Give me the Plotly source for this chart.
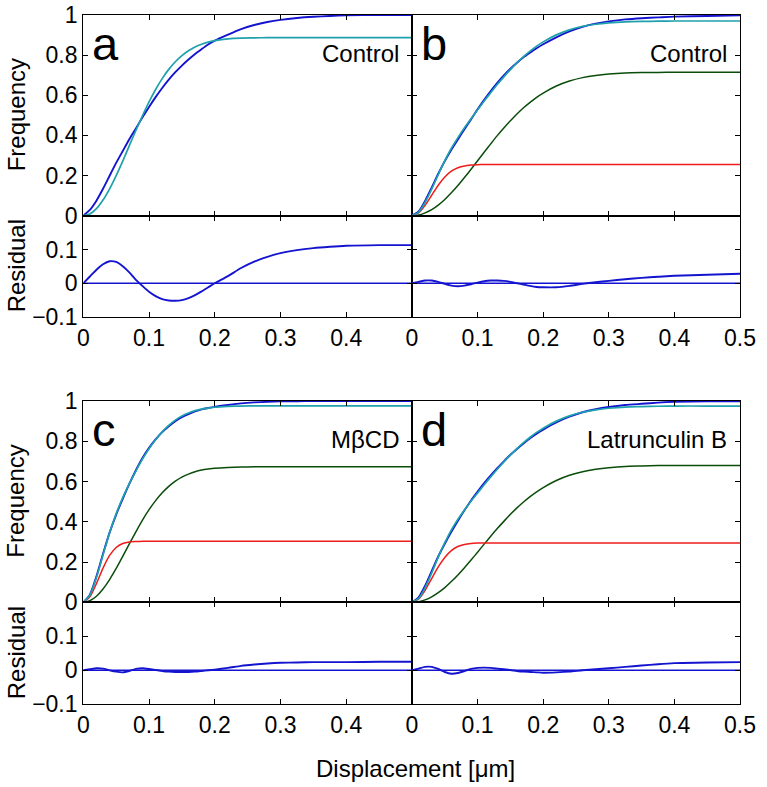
import plotly.graph_objects as go

# ---------------- data ----------------
x = [0, 0.01, 0.02, 0.03, 0.04, 0.05, 0.06, 0.07, 0.08, 0.09, 0.10, 0.11, 0.12, 0.13, 0.14,
     0.15, 0.16, 0.17, 0.18, 0.19, 0.20, 0.22, 0.24, 0.26, 0.28, 0.30, 0.325, 0.35, 0.375,
     0.40, 0.45, 0.50]

# panel a (Control, single-component fit)
a_data = [0, 0.029, 0.075, 0.134, 0.199, 0.263, 0.322, 0.381, 0.435, 0.490, 0.542, 0.591, 0.636,
          0.678, 0.715, 0.748, 0.778, 0.806, 0.830, 0.853, 0.872, 0.902, 0.930, 0.950, 0.965,
          0.976, 0.985, 0.991, 0.995, 0.998, 1.000, 1.000]
a_fit = [0, 0.009, 0.035, 0.078, 0.134, 0.200, 0.272, 0.349, 0.425, 0.498, 0.567, 0.629, 0.683,
         0.729, 0.767, 0.798, 0.822, 0.841, 0.854, 0.865, 0.872, 0.881, 0.885, 0.886, 0.887,
         0.887, 0.887, 0.887, 0.887, 0.887, 0.887, 0.887]
a_resid = [0, 0.020, 0.040, 0.056, 0.065, 0.063, 0.050, 0.032, 0.010, -0.008, -0.025, -0.038,
           -0.047, -0.051, -0.052, -0.050, -0.044, -0.035, -0.024, -0.012, 0.000, 0.021, 0.045,
           0.064, 0.078, 0.089, 0.098, 0.104, 0.108, 0.111, 0.113, 0.113]

# panel b (Control, two-component fit)
b_data = [0, 0.021, 0.074, 0.140, 0.209, 0.272, 0.329, 0.380, 0.431, 0.480, 0.530, 0.577, 0.621,
          0.662, 0.699, 0.732, 0.762, 0.789, 0.812, 0.834, 0.854, 0.889, 0.918, 0.941, 0.957,
          0.968, 0.978, 0.984, 0.988, 0.992, 0.995, 0.998]
b_fit = [0, 0.017, 0.066, 0.132, 0.205, 0.274, 0.336, 0.389, 0.438, 0.483, 0.528, 0.571, 0.613,
         0.654, 0.692, 0.728, 0.762, 0.793, 0.820, 0.845, 0.866, 0.901, 0.926, 0.943, 0.954,
         0.961, 0.966, 0.968, 0.969, 0.970, 0.970, 0.970]
b_fast = [0, 0.014, 0.052, 0.102, 0.152, 0.193, 0.222, 0.239, 0.248, 0.252, 0.254, 0.255, 0.255,
          0.255, 0.255, 0.255, 0.255, 0.255, 0.255, 0.255, 0.255, 0.255, 0.255, 0.255, 0.255,
          0.255, 0.255, 0.255, 0.255, 0.255, 0.255, 0.255]
b_slow = [0, 0.003, 0.014, 0.030, 0.053, 0.081, 0.114, 0.150, 0.190, 0.231, 0.274, 0.316, 0.358,
          0.399, 0.437, 0.473, 0.507, 0.538, 0.565, 0.590, 0.611, 0.646, 0.671, 0.688, 0.699,
          0.706, 0.711, 0.713, 0.714, 0.715, 0.715, 0.715]
b_resid = [0, 0.004, 0.008, 0.008, 0.004, -0.002, -0.007, -0.009, -0.007, -0.003, 0.002, 0.006,
           0.008, 0.008, 0.007, 0.004, 0.000, -0.004, -0.008, -0.011, -0.012, -0.012, -0.008,
           -0.002, 0.003, 0.007, 0.012, 0.016, 0.019, 0.022, 0.025, 0.028]

# panel c (MβCD)
c_data = [0, 0.038, 0.129, 0.241, 0.346, 0.436, 0.514, 0.588, 0.656, 0.717, 0.767, 0.809, 0.845,
          0.875, 0.900, 0.920, 0.935, 0.948, 0.958, 0.965, 0.971, 0.980, 0.988, 0.993, 0.996,
          0.998, 0.999, 1.000, 1.000, 1.000, 1.000, 1.000]
c_fit = [0, 0.035, 0.123, 0.236, 0.346, 0.440, 0.520, 0.590, 0.652, 0.711, 0.763, 0.808, 0.847,
         0.879, 0.905, 0.925, 0.940, 0.952, 0.960, 0.965, 0.969, 0.973, 0.975, 0.976, 0.976,
         0.976, 0.976, 0.976, 0.976, 0.976, 0.976, 0.976]
c_fast = [0, 0.027, 0.093, 0.170, 0.233, 0.272, 0.292, 0.300, 0.302, 0.303, 0.303, 0.303, 0.303,
          0.303, 0.303, 0.303, 0.303, 0.303, 0.303, 0.303, 0.303, 0.303, 0.303, 0.303, 0.303,
          0.303, 0.303, 0.303, 0.303, 0.303, 0.303, 0.303]
c_slow = [0, 0.008, 0.030, 0.066, 0.113, 0.168, 0.228, 0.290, 0.350, 0.408, 0.460, 0.505, 0.544,
          0.576, 0.602, 0.622, 0.637, 0.649, 0.657, 0.662, 0.666, 0.670, 0.672, 0.673, 0.673,
          0.673, 0.673, 0.673, 0.673, 0.673, 0.673, 0.673]
c_resid = [0, 0.003, 0.006, 0.005, 0.000, -0.004, -0.006, -0.002, 0.004, 0.006, 0.004, 0.001,
           -0.002, -0.004, -0.005, -0.005, -0.005, -0.004, -0.002, 0.000, 0.002, 0.007, 0.013,
           0.017, 0.020, 0.022, 0.023, 0.024, 0.024, 0.024, 0.025, 0.025]

# panel d (Latrunculin B)
d_data = [0, 0.024, 0.082, 0.155, 0.228, 0.291, 0.350, 0.405, 0.457, 0.506, 0.550, 0.592, 0.630,
          0.666, 0.700, 0.733, 0.762, 0.789, 0.815, 0.838, 0.858, 0.894, 0.922, 0.944, 0.959,
          0.970, 0.980, 0.986, 0.992, 0.996, 0.998, 0.999]
d_fit = [0, 0.019, 0.072, 0.145, 0.224, 0.296, 0.360, 0.413, 0.459, 0.502, 0.543, 0.584, 0.623,
         0.661, 0.697, 0.732, 0.764, 0.793, 0.820, 0.844, 0.865, 0.900, 0.926, 0.944, 0.956,
         0.964, 0.970, 0.972, 0.974, 0.975, 0.975, 0.975]
d_fast = [0, 0.016, 0.060, 0.118, 0.176, 0.223, 0.257, 0.277, 0.287, 0.292, 0.294, 0.295, 0.295,
          0.295, 0.295, 0.295, 0.295, 0.295, 0.295, 0.295, 0.295, 0.295, 0.295, 0.295, 0.295,
          0.295, 0.295, 0.295, 0.295, 0.295, 0.295, 0.295]
d_slow = [0, 0.003, 0.012, 0.027, 0.048, 0.073, 0.103, 0.136, 0.172, 0.210, 0.249, 0.289, 0.328,
          0.366, 0.402, 0.437, 0.469, 0.498, 0.525, 0.549, 0.570, 0.605, 0.631, 0.649, 0.661,
          0.669, 0.675, 0.677, 0.679, 0.680, 0.680, 0.680]
d_resid = [0, 0.005, 0.010, 0.010, 0.004, -0.005, -0.010, -0.008, -0.002, 0.004, 0.007, 0.008,
           0.007, 0.005, 0.003, 0.001, -0.002, -0.004, -0.005, -0.006, -0.007, -0.006, -0.004,
           0.000, 0.003, 0.006, 0.010, 0.014, 0.018, 0.021, 0.023, 0.024]

zero_x = [0, 0.5]
zero_y = [0, 0]

panel_letters = ["a", "b", "c", "d"]
panel_labels = ["Control", "Control", "MβCD", "Latrunculin B"]
freq_ticks = [0, 0.2, 0.4, 0.6, 0.8, 1]
resid_ticks = [-0.1, 0, 0.1]
x_ticks_left = [0, 0.1, 0.2, 0.3, 0.4]
x_ticks_right = [0, 0.1, 0.2, 0.3, 0.4, 0.5]
x_title = "Displacement [μm]"

# ---------------- styling ----------------
W, H = 767, 787
FONT = "Liberation Sans, Arial, Helvetica, sans-serif"
BLUE = "#1414d0"
TEAL = "#1fa0ad"
RED = "#ee1c1c"
GREEN = "#0a4d0a"


def fx(p):
    return p / W


def fy(p):
    return 1 - p / H


cols = [(83.3, 412.0), (412.0, 740.0)]
rows = [(15.0, 215.7, 317.0), (401.0, 602.3, 704.3)]

panels = [
    dict(data=a_data, fit=a_fit, fast=None, slow=None, resid=a_resid),
    dict(data=b_data, fit=b_fit, fast=b_fast, slow=b_slow, resid=b_resid),
    dict(data=c_data, fit=c_fit, fast=c_fast, slow=c_slow, resid=c_resid),
    dict(data=d_data, fit=d_fit, fast=d_fast, slow=d_slow, resid=d_resid),
]

fig = go.Figure()
layout = {}
axis_common = dict(showline=True, linecolor="black", linewidth=1.3, mirror="ticks",
                   ticks="inside", ticklen=5, tickwidth=1.4, tickcolor="black",
                   showgrid=False, zeroline=False, automargin=False, fixedrange=True,
                   tickfont=dict(family=FONT, size=23, color="black"))

ann = []
for i, p in enumerate(panels):
    ci, ri = i % 2, i // 2
    x0, x1 = cols[ci]
    ytop, ymid, ybot = rows[ri]
    nf = 2 * i + 1  # freq axis index
    nr = 2 * i + 2  # residual axis index
    xf = "x" if nf == 1 else f"x{nf}"
    yf = "y" if nf == 1 else f"y{nf}"
    xr, yr = f"x{nr}", f"y{nr}"

    def sc(xs, ys, color, xa, ya, w=1.7):
        fig.add_trace(go.Scatter(x=xs, y=ys, mode="lines", xaxis=xa, yaxis=ya,
                                 line=dict(color=color, width=w, shape="spline", smoothing=0.6),
                                 showlegend=False, hoverinfo="skip"))

    sc(x, p["data"], BLUE, xf, yf, 1.9)
    if p["fast"] is not None:
        sc(x, p["slow"], GREEN, xf, yf, 1.5)
        sc(x, p["fast"], RED, xf, yf, 1.5)
    sc(x, p["fit"], TEAL, xf, yf, 1.7)
    sc(zero_x, zero_y, BLUE, xr, yr, 1.6)
    sc(x, p["resid"], BLUE, xr, yr, 1.9)

    xdom = [fx(x0), fx(x1)]
    xt = x_ticks_left if ci == 0 else x_ticks_right
    layout["xaxis" if nf == 1 else f"xaxis{nf}"] = dict(
        axis_common, domain=xdom, range=[0, 0.5], anchor=yf,
        tickvals=[0.1, 0.2, 0.3, 0.4], showticklabels=False)
    layout[f"xaxis{nr}"] = dict(
        axis_common, domain=xdom, range=[0, 0.5], anchor=yr,
        tickvals=xt, showticklabels=True)
    layout["yaxis" if nf == 1 else f"yaxis{nf}"] = dict(
        axis_common, domain=[fy(ymid), fy(ytop)], range=[0, 1], anchor=xf,
        tickvals=freq_ticks, showticklabels=(ci == 0))
    layout[f"yaxis{nr}"] = dict(
        axis_common, domain=[fy(ybot), fy(ymid)], range=[-0.1, 0.2], anchor=xr,
        tickvals=resid_ticks, showticklabels=(ci == 0))

    # panel letter
    ann.append(dict(text=panel_letters[i], xref="paper", yref="paper",
                    x=fx(x0 + 7), y=fy(ytop + 28), xanchor="left", yanchor="middle",
                    showarrow=False, font=dict(family=FONT, size=47, color="black")))
    # condition label
    ann.append(dict(text=panel_labels[i], xref="paper", yref="paper",
                    x=fx(x1 - 11), y=fy(ytop + 38), xanchor="right", yanchor="middle",
                    showarrow=False, font=dict(family=FONT, size=24, color="black")))

    if ci == 0:
        ann.append(dict(text="Frequency", xref="paper", yref="paper", textangle=-90,
                        x=fx(16), y=fy((ytop + ymid) / 2), xanchor="center", yanchor="middle",
                        showarrow=False, font=dict(family=FONT, size=24, color="black")))
        ann.append(dict(text="Residual", xref="paper", yref="paper", textangle=-90,
                        x=fx(16), y=fy((ymid + ybot) / 2), xanchor="center", yanchor="middle",
                        showarrow=False, font=dict(family=FONT, size=24, color="black")))

ann.append(dict(text=x_title, xref="paper", yref="paper", x=fx(415), y=fy(768),
                xanchor="center", yanchor="middle", showarrow=False,
                font=dict(family=FONT, size=24, color="black")))

fig.update_layout(**layout)
fig.update_layout(width=W, height=H, margin=dict(l=0, r=0, t=0, b=0, autoexpand=False),
                  paper_bgcolor="white", plot_bgcolor="white", annotations=ann,
                  showlegend=False)

fig.write_html("out.html", config={"displayModeBar": False},
               post_script="document.body.style.margin='0';document.body.style.padding='0';")
